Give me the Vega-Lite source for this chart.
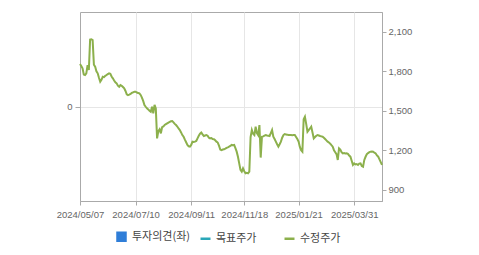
{
  "$schema": "https://vega.github.io/schema/vega-lite/v6.json",
  "width": 302,
  "height": 189,
  "autosize": {"type": "none"},
  "padding": {"left": 80, "top": 12, "right": 97, "bottom": 54},
  "background": "white",
  "config": {
    "view": {"stroke": "#aaaaaa", "strokeWidth": 1},
    "axis": {
      "labelFont": "Liberation Sans",
      "labelFontSize": 9.5,
      "labelColor": "#666666",
      "domainColor": "#aaaaaa",
      "tickColor": "#aaaaaa",
      "gridColor": "#e6e6e6",
      "title": null
    }
  },
  "datasets": {
    "price": [
      {"date": "2024/05/07", "price": 1855}, {"date": "2024/05/08", "price": 1840}, {"date": "2024/05/09", "price": 1822}, {"date": "2024/05/10", "price": 1775},
      {"date": "2024/05/13", "price": 1771}, {"date": "2024/05/14", "price": 1784}, {"date": "2024/05/16", "price": 1847}, {"date": "2024/05/17", "price": 1809},
      {"date": "2024/05/20", "price": 2040}, {"date": "2024/05/21", "price": 2042}, {"date": "2024/05/22", "price": 2036}, {"date": "2024/05/23", "price": 1850},
      {"date": "2024/05/24", "price": 1834}, {"date": "2024/05/27", "price": 1800}, {"date": "2024/05/28", "price": 1784}, {"date": "2024/05/29", "price": 1750},
      {"date": "2024/05/30", "price": 1720}, {"date": "2024/05/31", "price": 1735}, {"date": "2024/06/03", "price": 1758}, {"date": "2024/06/04", "price": 1755},
      {"date": "2024/06/05", "price": 1765}, {"date": "2024/06/07", "price": 1771}, {"date": "2024/06/10", "price": 1778}, {"date": "2024/06/11", "price": 1784},
      {"date": "2024/06/12", "price": 1780}, {"date": "2024/06/13", "price": 1760}, {"date": "2024/06/14", "price": 1746}, {"date": "2024/06/17", "price": 1730},
      {"date": "2024/06/18", "price": 1715}, {"date": "2024/06/19", "price": 1708}, {"date": "2024/06/20", "price": 1690}, {"date": "2024/06/21", "price": 1682},
      {"date": "2024/06/24", "price": 1695}, {"date": "2024/06/25", "price": 1690}, {"date": "2024/06/26", "price": 1680}, {"date": "2024/06/27", "price": 1670},
      {"date": "2024/06/28", "price": 1650}, {"date": "2024/07/01", "price": 1625}, {"date": "2024/07/02", "price": 1619}, {"date": "2024/07/03", "price": 1622},
      {"date": "2024/07/04", "price": 1627}, {"date": "2024/07/05", "price": 1635}, {"date": "2024/07/08", "price": 1640}, {"date": "2024/07/09", "price": 1644},
      {"date": "2024/07/10", "price": 1644}, {"date": "2024/07/11", "price": 1638}, {"date": "2024/07/12", "price": 1635}, {"date": "2024/07/15", "price": 1632},
      {"date": "2024/07/16", "price": 1620}, {"date": "2024/07/17", "price": 1600}, {"date": "2024/07/18", "price": 1575}, {"date": "2024/07/19", "price": 1543},
      {"date": "2024/07/22", "price": 1530}, {"date": "2024/07/23", "price": 1518}, {"date": "2024/07/24", "price": 1510}, {"date": "2024/07/25", "price": 1500},
      {"date": "2024/07/26", "price": 1492}, {"date": "2024/07/29", "price": 1530}, {"date": "2024/07/30", "price": 1480}, {"date": "2024/07/31", "price": 1545},
      {"date": "2024/08/01", "price": 1518}, {"date": "2024/08/02", "price": 1290}, {"date": "2024/08/05", "price": 1345}, {"date": "2024/08/06", "price": 1359},
      {"date": "2024/08/07", "price": 1328}, {"date": "2024/08/08", "price": 1375}, {"date": "2024/08/09", "price": 1380}, {"date": "2024/08/12", "price": 1392},
      {"date": "2024/08/13", "price": 1398}, {"date": "2024/08/14", "price": 1404}, {"date": "2024/08/16", "price": 1410}, {"date": "2024/08/19", "price": 1415},
      {"date": "2024/08/20", "price": 1420}, {"date": "2024/08/21", "price": 1422}, {"date": "2024/08/22", "price": 1412}, {"date": "2024/08/23", "price": 1400},
      {"date": "2024/08/26", "price": 1391}, {"date": "2024/08/27", "price": 1380}, {"date": "2024/08/28", "price": 1365}, {"date": "2024/08/29", "price": 1353},
      {"date": "2024/08/30", "price": 1335}, {"date": "2024/09/02", "price": 1315}, {"date": "2024/09/03", "price": 1302}, {"date": "2024/09/04", "price": 1280},
      {"date": "2024/09/05", "price": 1260}, {"date": "2024/09/06", "price": 1240}, {"date": "2024/09/09", "price": 1230}, {"date": "2024/09/10", "price": 1227},
      {"date": "2024/09/11", "price": 1240}, {"date": "2024/09/12", "price": 1265}, {"date": "2024/09/13", "price": 1262}, {"date": "2024/09/19", "price": 1265},
      {"date": "2024/09/20", "price": 1270}, {"date": "2024/09/23", "price": 1290}, {"date": "2024/09/24", "price": 1310}, {"date": "2024/09/25", "price": 1325},
      {"date": "2024/09/26", "price": 1334}, {"date": "2024/09/27", "price": 1320}, {"date": "2024/09/30", "price": 1308}, {"date": "2024/10/02", "price": 1312},
      {"date": "2024/10/04", "price": 1315}, {"date": "2024/10/07", "price": 1310}, {"date": "2024/10/08", "price": 1295}, {"date": "2024/10/10", "price": 1290},
      {"date": "2024/10/11", "price": 1292}, {"date": "2024/10/14", "price": 1285}, {"date": "2024/10/15", "price": 1283}, {"date": "2024/10/16", "price": 1275},
      {"date": "2024/10/17", "price": 1265}, {"date": "2024/10/18", "price": 1258}, {"date": "2024/10/21", "price": 1235}, {"date": "2024/10/22", "price": 1205},
      {"date": "2024/10/23", "price": 1201}, {"date": "2024/10/24", "price": 1205}, {"date": "2024/10/25", "price": 1207}, {"date": "2024/10/28", "price": 1212},
      {"date": "2024/10/29", "price": 1218}, {"date": "2024/10/30", "price": 1222}, {"date": "2024/10/31", "price": 1227}, {"date": "2024/11/01", "price": 1232},
      {"date": "2024/11/04", "price": 1240}, {"date": "2024/11/05", "price": 1238}, {"date": "2024/11/06", "price": 1240}, {"date": "2024/11/07", "price": 1215},
      {"date": "2024/11/08", "price": 1189}, {"date": "2024/11/11", "price": 1150}, {"date": "2024/11/12", "price": 1100}, {"date": "2024/11/13", "price": 1050},
      {"date": "2024/11/14", "price": 1037}, {"date": "2024/11/15", "price": 1062}, {"date": "2024/11/18", "price": 1040}, {"date": "2024/11/19", "price": 1024},
      {"date": "2024/11/20", "price": 1028}, {"date": "2024/11/21", "price": 1024}, {"date": "2024/11/22", "price": 1037}, {"date": "2024/11/25", "price": 1300},
      {"date": "2024/11/26", "price": 1353}, {"date": "2024/11/27", "price": 1325}, {"date": "2024/11/28", "price": 1315}, {"date": "2024/11/29", "price": 1379},
      {"date": "2024/12/02", "price": 1330}, {"date": "2024/12/03", "price": 1315}, {"date": "2024/12/04", "price": 1391}, {"date": "2024/12/05", "price": 1144},
      {"date": "2024/12/06", "price": 1302}, {"date": "2024/12/09", "price": 1305}, {"date": "2024/12/10", "price": 1310}, {"date": "2024/12/11", "price": 1315},
      {"date": "2024/12/12", "price": 1312}, {"date": "2024/12/13", "price": 1310}, {"date": "2024/12/16", "price": 1308}, {"date": "2024/12/17", "price": 1330},
      {"date": "2024/12/18", "price": 1353}, {"date": "2024/12/19", "price": 1302}, {"date": "2024/12/20", "price": 1285}, {"date": "2024/12/23", "price": 1265},
      {"date": "2024/12/24", "price": 1245}, {"date": "2024/12/26", "price": 1227}, {"date": "2024/12/27", "price": 1245}, {"date": "2024/12/30", "price": 1265},
      {"date": "2025/01/02", "price": 1295}, {"date": "2025/01/03", "price": 1315}, {"date": "2025/01/06", "price": 1322}, {"date": "2025/01/07", "price": 1320},
      {"date": "2025/01/08", "price": 1318}, {"date": "2025/01/09", "price": 1315}, {"date": "2025/01/10", "price": 1316}, {"date": "2025/01/13", "price": 1315},
      {"date": "2025/01/14", "price": 1314}, {"date": "2025/01/15", "price": 1315}, {"date": "2025/01/16", "price": 1315}, {"date": "2025/01/17", "price": 1300},
      {"date": "2025/01/20", "price": 1285}, {"date": "2025/01/21", "price": 1265}, {"date": "2025/01/22", "price": 1225}, {"date": "2025/01/23", "price": 1200},
      {"date": "2025/01/24", "price": 1189}, {"date": "2025/01/31", "price": 1435}, {"date": "2025/02/03", "price": 1455}, {"date": "2025/02/04", "price": 1400},
      {"date": "2025/02/05", "price": 1340}, {"date": "2025/02/06", "price": 1353}, {"date": "2025/02/07", "price": 1365}, {"date": "2025/02/10", "price": 1379},
      {"date": "2025/02/11", "price": 1335}, {"date": "2025/02/12", "price": 1290}, {"date": "2025/02/13", "price": 1300}, {"date": "2025/02/14", "price": 1310},
      {"date": "2025/02/17", "price": 1315}, {"date": "2025/02/18", "price": 1312}, {"date": "2025/02/19", "price": 1308}, {"date": "2025/02/20", "price": 1305},
      {"date": "2025/02/21", "price": 1302}, {"date": "2025/02/24", "price": 1295}, {"date": "2025/02/25", "price": 1285}, {"date": "2025/02/26", "price": 1275},
      {"date": "2025/02/27", "price": 1265}, {"date": "2025/02/28", "price": 1258}, {"date": "2025/03/04", "price": 1250}, {"date": "2025/03/05", "price": 1238},
      {"date": "2025/03/06", "price": 1227}, {"date": "2025/03/07", "price": 1200}, {"date": "2025/03/10", "price": 1185}, {"date": "2025/03/11", "price": 1170},
      {"date": "2025/03/12", "price": 1126}, {"date": "2025/03/13", "price": 1214}, {"date": "2025/03/14", "price": 1205}, {"date": "2025/03/17", "price": 1185},
      {"date": "2025/03/18", "price": 1176}, {"date": "2025/03/19", "price": 1178}, {"date": "2025/03/20", "price": 1175}, {"date": "2025/03/21", "price": 1176},
      {"date": "2025/03/24", "price": 1172}, {"date": "2025/03/25", "price": 1160}, {"date": "2025/03/26", "price": 1151}, {"date": "2025/03/27", "price": 1120},
      {"date": "2025/03/28", "price": 1088}, {"date": "2025/03/31", "price": 1100}, {"date": "2025/04/01", "price": 1092}, {"date": "2025/04/02", "price": 1095},
      {"date": "2025/04/03", "price": 1088}, {"date": "2025/04/04", "price": 1098}, {"date": "2025/04/07", "price": 1100}, {"date": "2025/04/08", "price": 1080},
      {"date": "2025/04/09", "price": 1075}, {"date": "2025/04/10", "price": 1126}, {"date": "2025/04/11", "price": 1150}, {"date": "2025/04/14", "price": 1170},
      {"date": "2025/04/15", "price": 1178}, {"date": "2025/04/16", "price": 1185}, {"date": "2025/04/17", "price": 1189}, {"date": "2025/04/18", "price": 1190},
      {"date": "2025/04/21", "price": 1188}, {"date": "2025/04/22", "price": 1181}, {"date": "2025/04/23", "price": 1175}, {"date": "2025/04/24", "price": 1160},
      {"date": "2025/04/25", "price": 1151}, {"date": "2025/04/28", "price": 1130}, {"date": "2025/04/29", "price": 1110}, {"date": "2025/04/30", "price": 1088}
    ]
  },
  "layer": [
    {
      "data": {"values": [{"opinion": 0}]},
      "mark": {"type": "rule", "strokeOpacity": 0},
      "encoding": {
        "y": {
          "field": "opinion",
          "type": "quantitative",
          "scale": {"domain": [-1, 1], "nice": false},
          "axis": {"orient": "left", "values": [0], "format": "d", "grid": true, "tickSize": 5, "labelPadding": 3}
        }
      }
    },
    {
      "data": {"name": "price"},
      "mark": {"type": "line", "strokeWidth": 2, "interpolate": "linear"},
      "encoding": {
        "x": {
          "field": "date",
          "type": "ordinal",
          "scale": {"type": "point", "padding": 0},
          "axis": {
            "values": ["2024/05/07", "2024/07/10", "2024/09/11", "2024/11/18", "2025/01/21", "2025/03/31"],
            "labelAngle": 0,
            "grid": true,
            "tickSize": 4,
            "labelPadding": 4
          }
        },
        "y": {
          "field": "price",
          "type": "quantitative",
          "scale": {"domain": [814, 2250], "nice": false, "zero": false},
          "axis": {"orient": "right", "values": [900, 1200, 1500, 1800, 2100], "format": ",.0f", "grid": false, "tickSize": 4, "labelPadding": 2}
        },
        "color": {
          "datum": "수정주가",
          "scale": {"domain": ["투자의견(좌)", "목표주가", "수정주가"], "range": ["#2f7ed8", "#2aa7b8", "#8cb04c"]},
          "legend": {
            "orient": "none",
            "legendX": 35,
            "legendY": 218,
            "direction": "horizontal",
            "columns": 3,
            "gridAlign": "all",
            "columnPadding": 4,
            "padding": 0,
            "title": null,
            "symbolType": "stroke",
            "symbolSize": 100,
            "symbolStrokeWidth": 2.5,
            "labelFont": "Noto Sans CJK KR",
            "labelFontSize": 11,
            "labelColor": "#444444",
            "labelOffset": 4,
            "encode": {
              "symbols": {
                "update": {
                  "shape": {"signal": "datum.value === '투자의견(좌)' ? 'square' : 'stroke'"},
                  "size": {"signal": "datum.value === '투자의견(좌)' ? 64 : 100"},
                  "fill": {"signal": "datum.value === '투자의견(좌)' ? '#2f7ed8' : 'transparent'"},
                  "stroke": {"signal": "datum.value === '투자의견(좌)' ? 'transparent' : (datum.value === '목표주가' ? '#2aa7b8' : '#8cb04c')"},
                  "strokeWidth": {"value": 2.5}
                }
              }
            }
          }
        }
      }
    }
  ],
  "resolve": {"scale": {"y": "independent"}}
}
